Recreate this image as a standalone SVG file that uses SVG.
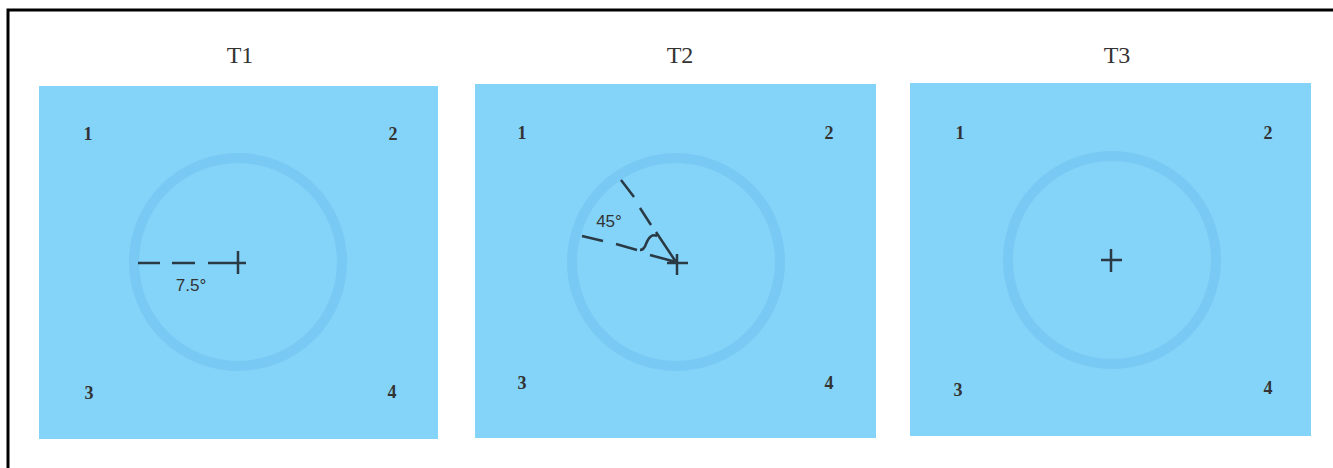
<svg xmlns="http://www.w3.org/2000/svg" width="1333" height="468" viewBox="0 0 1333 468">
<style>
.panel{fill:#84d3f9}
.ring{fill:none;stroke:#78c9f3;stroke-width:10}
.t{font-family:"Liberation Serif",serif;font-size:24px;fill:#333;text-anchor:middle}
.n{font-family:"Liberation Serif",serif;font-size:18px;font-weight:bold;fill:#333;text-anchor:middle}
.lab{font-family:"Liberation Sans",sans-serif;font-size:17px;fill:#333;text-anchor:middle}
.d{stroke:#2a3a44;stroke-width:2.5;fill:none}
</style>
<rect x="8" y="10" width="1340" height="480" fill="#fff" stroke="#000" stroke-width="3"/>
<g id="panel1">
<text class="t" x="240" y="63">T1</text>
<rect class="panel" x="39" y="86" width="399" height="353"/>
<circle class="ring" cx="238" cy="262" r="104"/>
<text class="n" x="88" y="140">1</text>
<text class="n" x="393" y="140">2</text>
<text class="n" x="89" y="399">3</text>
<text class="n" x="392" y="398">4</text>
<path class="d" d="M138 263H160M172 263H195M208 263H246M238 251V274"/>
<text class="lab" x="191" y="291">7.5°</text>
</g>
<g id="panel2">
<text class="t" x="680" y="63">T2</text>
<rect class="panel" x="475" y="84" width="401" height="354"/>
<circle class="ring" cx="676" cy="262" r="104"/>
<text class="n" x="522" y="139">1</text>
<text class="n" x="829" y="139">2</text>
<text class="n" x="522" y="389">3</text>
<text class="n" x="829" y="389">4</text>
<path class="d" d="M621 180L634 197M640 208L651 225M656 232L676 262M582 236L603 241M616 244L637 250M650 255L676 262M667 263H688M677 254V275M640 250Q644 250 646 244Q650 233 657 236"/>
<text class="lab" x="609" y="227">45°</text>
</g>
<g id="panel3">
<text class="t" x="1117" y="63">T3</text>
<rect class="panel" x="910" y="83" width="401" height="353"/>
<circle class="ring" cx="1112" cy="260" r="104"/>
<text class="n" x="960" y="139">1</text>
<text class="n" x="1268" y="139">2</text>
<text class="n" x="958" y="396">3</text>
<text class="n" x="1268" y="394">4</text>
<path class="d" d="M1101 260H1122M1111 249V272"/>
</g>
</svg>
